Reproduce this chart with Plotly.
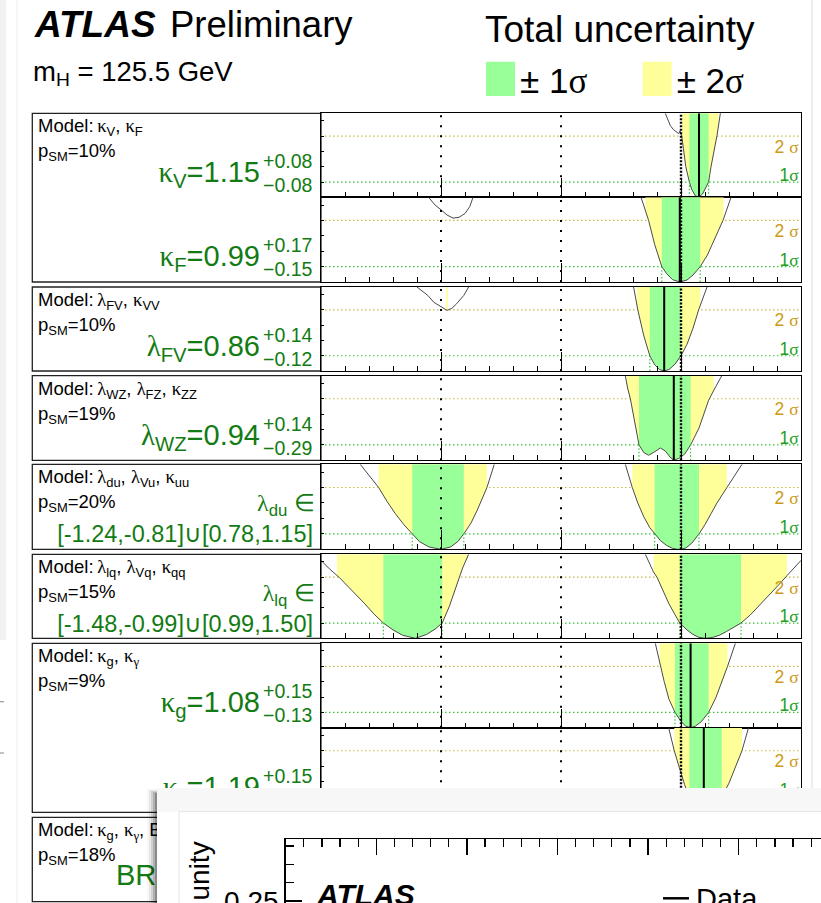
import numpy as np
import plotly.graph_objects as go

W, H = 821, 903
SANS = "Liberation Sans"
SERIF = "Liberation Serif"

# colours
C_BAND_1S = "#99ff99"
C_BAND_2S = "#ffff99"
C_VALUE = "#137b13"
C_TXT_1S = "#22a022"
C_TXT_2S = "#cc9a14"
C_LINE_1S = "#3ac43a"
C_LINE_2S = "#c4bd45"
C_CURVE = "#4a4a4a"

MH = 125.5
X_RANGE = [-2.0, 2.0]
YMAX = 5.5
SM_VALUE = 1.0
GUIDES = [-1.0, 0.0]
LEVEL_1S, LEVEL_2S = 1.0, 4.0

# ---------------- likelihood scans (-2 ln Lambda) ----------------
KV_X = [0.869, 0.89, 0.911, 0.935, 0.955, 0.98, 0.992, 1.005, 1.02, 1.04, 1.07, 1.09, 1.12,
        1.147, 1.18, 1.20, 1.23, 1.25, 1.28, 1.30, 1.328, 1.345]
KV_Y = [5.5, 5.05, 4.7, 4.45, 4.3, 4.17, 4.35, 4.05, 3.2, 2.0, 1.0, 0.5, 0.1,
        0.0, 0.22, 0.55, 1.0, 2.0, 3.2, 4.05, 5.5, 6.5]

KF_X = [0.667, 0.70, 0.73, 0.78, 0.84, 0.88, 0.93, 0.99, 1.05, 1.10, 1.16, 1.22, 1.28, 1.35, 1.417]
KF_Y = [5.5, 4.7, 4.0, 2.45, 1.0, 0.55, 0.15, 0.0, 0.13, 0.45, 1.0, 1.75, 2.75, 4.0, 5.5]
KF_SIDE_X = [-1.103, -1.05, -1.0, -0.95, -0.90, -0.85, -0.80, -0.76, -0.733]
KF_SIDE_Y = [5.5, 5.0, 4.69, 4.35, 4.15, 4.2, 4.45, 4.9, 5.5]

LFV_X = [0.605, 0.64, 0.69, 0.74, 0.78, 0.82, 0.86, 0.90, 0.95, 1.00, 1.05, 1.10, 1.147, 1.217]
LFV_Y = [5.5, 4.0, 2.3, 1.0, 0.42, 0.1, 0.0, 0.1, 0.45, 1.0, 1.75, 2.8, 4.0, 5.5]
LFV_SIDE_X = [-1.2, -1.11, -1.06, -1.0, -0.95, -0.91, -0.87, -0.81, -0.77]
LFV_SIDE_Y = [5.5, 4.95, 4.5, 4.2, 3.97, 4.1, 4.4, 4.95, 5.5]

LWZ_X = [0.536, 0.555, 0.578, 0.60, 0.62, 0.65, 0.69, 0.73, 0.78, 0.828, 0.87, 0.91, 0.94,
         0.98, 1.03, 1.08, 1.15, 1.20, 1.23, 1.29, 1.34]
LWZ_Y = [5.5, 4.7, 4.0, 3.1, 2.3, 1.0, 0.5, 0.33, 0.55, 0.8, 0.6, 0.2, 0.0,
         0.12, 0.4, 1.0, 2.1, 3.2, 3.9, 4.8, 5.5]

LDU_NEG_X = [-1.673, -1.60, -1.52, -1.45, -1.38, -1.31, -1.24, -1.18, -1.10, -1.0, -0.92,
             -0.86, -0.81, -0.75, -0.70, -0.655, -0.617, -0.556]
LDU_NEG_Y = [5.5, 4.8, 4.0, 3.1, 2.3, 1.6, 1.0, 0.5, 0.15, 0.0, 0.15, 0.5, 1.0, 1.7, 2.5,
             3.3, 4.0, 5.5]
LDU_POS_X = [0.536, 0.594, 0.64, 0.69, 0.74, 0.78, 0.83, 0.88, 0.93, 0.97, 1.0, 1.04, 1.09,
             1.15, 1.20, 1.25, 1.30, 1.383, 1.45, 1.508]
LDU_POS_Y = [5.5, 4.0, 3.0, 2.1, 1.4, 1.0, 0.55, 0.25, 0.06, 0.0, 0.0, 0.08, 0.4, 1.0, 1.6,
             2.3, 3.0, 4.0, 4.8, 5.5]

LLQ_NEG_X = [-2.0, -1.93, -1.85, -1.78, -1.714, -1.64, -1.56, -1.48, -1.40, -1.32, -1.214,
             -1.12, -1.05, -0.99, -0.93, -0.87, -0.82, -0.77]
LLQ_NEG_Y = [5.1, 4.55, 4.0, 3.45, 2.94, 2.3, 1.6, 1.0, 0.55, 0.2, 0.0, 0.25, 0.6, 1.0, 2.1,
             3.5, 4.6, 5.5]
LLQ_POS_X = [0.703, 0.74, 0.77, 0.80, 0.85, 0.90, 0.95, 0.99, 1.05, 1.10, 1.15, 1.203, 1.26,
             1.32, 1.38, 1.44, 1.50, 1.58, 1.66, 1.74, 1.82, 1.883, 1.94, 2.0]
LLQ_POS_Y = [5.5, 4.9, 4.35, 4.0, 3.1, 2.25, 1.55, 1.0, 0.55, 0.25, 0.06, 0.0, 0.05, 0.2,
             0.45, 0.75, 1.0, 1.55, 2.2, 2.85, 3.55, 4.1, 4.6, 5.1]

KG_X = [0.786, 0.822, 0.86, 0.90, 0.95, 1.0, 1.04, 1.08, 1.12, 1.17, 1.23, 1.29, 1.34, 1.388, 1.453]
KG_Y = [5.5, 4.2, 3.0, 1.85, 1.0, 0.4, 0.1, 0.0, 0.1, 0.4, 1.0, 1.95, 2.95, 4.0, 5.5]

KGAM_X = [0.897, 0.944, 0.99, 1.03, 1.07, 1.12, 1.19, 1.25, 1.30, 1.34, 1.40, 1.46, 1.508, 1.563]
KGAM_Y = [5.5, 4.0, 2.8, 1.8, 1.0, 0.3, 0.0, 0.25, 0.6, 1.0, 1.9, 3.0, 4.0, 5.5]

# ---------------- fit results: best value, +err, -err ----------------
KV_FIT = (1.15, 0.08, 0.08)
KF_FIT = (0.99, 0.17, 0.15)
LFV_FIT = (0.86, 0.14, 0.12)
LWZ_FIT = (0.94, 0.14, 0.29)
KG_FIT = (1.08, 0.15, 0.13)
KGAM_FIT = (1.19, 0.15, 0.12)
LDU_1SIG = [(-1.24, -0.81), (0.78, 1.15)]
LLQ_1SIG = [(-1.48, -0.99), (0.99, 1.50)]

# 95% intervals
KV_2SIG = [(1.008, 1.313)]
KF_2SIG = [(0.703, 1.355)]
LFV_2SIG = [(-0.957, -0.943), (0.633, 1.161)]
LWZ_2SIG = [(0.55, 1.272)]
LDU_2SIG = [(-1.52, -0.617), (0.594, 1.383)]
LLQ_2SIG = [(-1.867, -0.77), (0.772, 1.883)]
KG_2SIG = [(0.822, 1.388)]
KGAM_2SIG = [(0.944, 1.508)]

P_SM = [10, 10, 19, 20, 15, 9, 18]

# ---------------- page geometry (pixels) ----------------
PLOT_X0, PLOT_X1 = 321.0, 801.0
BOX_X0 = 32.3
PANEL_TOP = [113.3, 197.3, 287.0, 375.7, 464.3, 554.3, 643.3, 727.7]
PANEL_BOT = [197.3, 282.0, 371.0, 460.3, 549.3, 638.3, 727.7, 812.3]
ROW_TOP = [113.3, 287.0, 375.7, 464.3, 554.3, 643.3, 817.3]
ROW_BOT = [282.0, 371.0, 460.3, 549.3, 638.3, 812.3, 901.7]


def G(s):
    return f'<span style="font-family:{SERIF}">{s}</span>'


def one_sigma(fit):
    b, up, dn = fit
    return [(round(b - dn, 3), round(b + up, 3))]


PANELS = [
    dict(sym=f"{G('κ')}<sub>V</sub>", curves=[(KV_X, KV_Y)], fit=KV_FIT, one=one_sigma(KV_FIT), two=KV_2SIG),
    dict(sym=f"{G('κ')}<sub>F</sub>", curves=[(KF_X, KF_Y), (KF_SIDE_X, KF_SIDE_Y)], fit=KF_FIT,
         one=one_sigma(KF_FIT), two=KF_2SIG),
    dict(sym=f"{G('λ')}<sub>FV</sub>", curves=[(LFV_X, LFV_Y), (LFV_SIDE_X, LFV_SIDE_Y)], fit=LFV_FIT,
         one=one_sigma(LFV_FIT), two=LFV_2SIG),
    dict(sym=f"{G('λ')}<sub>WZ</sub>", curves=[(LWZ_X, LWZ_Y)], fit=LWZ_FIT, one=one_sigma(LWZ_FIT), two=LWZ_2SIG),
    dict(sym=f"{G('λ')}<sub>du</sub>", curves=[(LDU_NEG_X, LDU_NEG_Y), (LDU_POS_X, LDU_POS_Y)], fit=None,
         one=LDU_1SIG, two=LDU_2SIG),
    dict(sym=f"{G('λ')}<sub>lq</sub>", curves=[(LLQ_NEG_X, LLQ_NEG_Y), (LLQ_POS_X, LLQ_POS_Y)], fit=None,
         one=LLQ_1SIG, two=LLQ_2SIG),
    dict(sym=f"{G('κ')}<sub>g</sub>", curves=[(KG_X, KG_Y)], fit=KG_FIT, one=one_sigma(KG_FIT), two=KG_2SIG),
    dict(sym=f"{G('κ')}<sub>{G('γ')}</sub>", curves=[(KGAM_X, KGAM_Y)], fit=KGAM_FIT,
         one=one_sigma(KGAM_FIT), two=KGAM_2SIG),
]

MODEL_TEXT = [
    f"{G('κ')}<sub>V</sub>, {G('κ')}<sub>F</sub>",
    f"{G('λ')}<sub>FV</sub>, {G('κ')}<sub>VV</sub>",
    f"{G('λ')}<sub>WZ</sub>, {G('λ')}<sub>FZ</sub>, {G('κ')}<sub>ZZ</sub>",
    f"{G('λ')}<sub>du</sub>, {G('λ')}<sub>Vu</sub>, {G('κ')}<sub>uu</sub>",
    f"{G('λ')}<sub>lq</sub>, {G('λ')}<sub>Vq</sub>, {G('κ')}<sub>qq</sub>",
    f"{G('κ')}<sub>g</sub>, {G('κ')}<sub>{G('γ')}</sub>",
    f"{G('κ')}<sub>g</sub>, {G('κ')}<sub>{G('γ')}</sub>, BR<sub>i.,u.</sub>",
]

fig = go.Figure()
layout_axes = {}
shapes = []


def ax_names(i):
    s = "" if i == 1 else str(i)
    return "x" + s, "y" + s, "xaxis" + s, "yaxis" + s


def line_tr(xs, ys, xr, yr, color, width, dash=None):
    return go.Scatter(x=xs, y=ys, xaxis=xr, yaxis=yr, mode="lines",
                      line=dict(color=color, width=width, dash=dash),
                      hoverinfo="skip", showlegend=False)


def curve_for(curves, lo, hi):
    mid = 0.5 * (lo + hi)
    for cx, cy in curves:
        if min(cx) <= mid <= max(cx):
            return cx, cy
    return curves[0]


def band_tr(curves, lo, hi, color, xr, yr):
    cx, cy = curve_for(curves, lo, hi)
    xs = [lo] + [x for x in cx if lo < x < hi] + [hi]
    ys = list(np.interp(xs, cx, cy))
    return go.Scatter(x=xs + [hi, lo], y=ys + [YMAX, YMAX], xaxis=xr, yaxis=yr,
                      mode="lines", fill="toself", fillcolor=color, line=dict(width=0),
                      hoverinfo="skip", showlegend=False)


def text_tr(s, x, base, size, color="black", right=False, family=SANS, xr="x9", yr="y9",
            px_per_unit=-1.0):
    # base is the text baseline; px_per_unit < 0 for pixel axes (y grows downward)
    return go.Scatter(x=[x], y=[base + 0.25 * size / px_per_unit], xaxis=xr, yaxis=yr,
                      mode="text", text=[s],
                      textposition="middle left" if right else "middle right",
                      textfont=dict(family=family, size=size, color=color),
                      hoverinfo="skip", showlegend=False, cliponaxis=False)


# ---------------- likelihood panels ----------------
for i, p in enumerate(PANELS, start=1):
    xr, yr, xa, ya = ax_names(i)
    top, bot = PANEL_TOP[i - 1], PANEL_BOT[i - 1]
    unit = (bot - top) / YMAX
    layout_axes[xa] = dict(domain=[PLOT_X0 / W, PLOT_X1 / W], range=X_RANGE, anchor=yr,
                           showline=True, mirror=True, linecolor="black", linewidth=1,
                           ticks="inside", ticklen=19, tickwidth=1, tickcolor="black",
                           dtick=1, tick0=0,
                           minor=dict(ticks="inside", ticklen=5, dtick=0.2, tick0=0,
                                      tickcolor="black", tickwidth=1),
                           showticklabels=False, showgrid=False, zeroline=False,
                           automargin=False, fixedrange=True)
    layout_axes[ya] = dict(domain=[1 - bot / H, 1 - top / H], range=[0, YMAX], anchor=xr,
                           showline=True, mirror=True, linecolor="black", linewidth=1,
                           ticks="inside", ticklen=3, dtick=1, tick0=0, tickcolor="black",
                           showticklabels=False, showgrid=False, zeroline=False,
                           automargin=False, fixedrange=True)

    # sigma reference levels
    fig.add_trace(line_tr(X_RANGE, [LEVEL_2S] * 2, xr, yr, C_LINE_2S, 1.2, "1.5px,2.5px"))
    fig.add_trace(line_tr(X_RANGE, [LEVEL_1S] * 2, xr, yr, C_LINE_1S, 1.2, "1.5px,2.5px"))
    # uncertainty bands above the scan
    for lo, hi in p["two"]:
        fig.add_trace(band_tr(p["curves"], lo, hi, C_BAND_2S, xr, yr))
    for lo, hi in p["one"]:
        fig.add_trace(band_tr(p["curves"], lo, hi, C_BAND_1S, xr, yr))
    # scan curves
    for cx, cy in p["curves"]:
        fig.add_trace(line_tr(cx, cy, xr, yr, C_CURVE, 1))
    # 68% interval edges
    for lo, hi in p["one"]:
        for e in (lo, hi):
            fig.add_trace(line_tr([e, e], [0, LEVEL_1S], xr, yr, C_LINE_1S, 1.2, "1.5px,2px"))
    # reference values
    for g in GUIDES:
        fig.add_trace(line_tr([g, g], [0, YMAX], xr, yr, "black", 2, "2px,8px"))
    fig.add_trace(line_tr([SM_VALUE, SM_VALUE], [0, YMAX], xr, yr, "black", 2.4, "2px,1.5px"))
    if p["fit"] is not None:
        b = p["fit"][0]
        fig.add_trace(line_tr([b, b], [0, YMAX], xr, yr, "black", 2))
    # level labels (baseline given in data units)
    fig.add_trace(text_tr(f"2 {G('σ')}", 1.98, LEVEL_2S - 16.4 / unit, 17.5, C_TXT_2S, True,
                          xr=xr, yr=yr, px_per_unit=unit))
    fig.add_trace(text_tr(f"1{G('σ')}", 1.98, LEVEL_1S + 1.0 / unit, 17.5, C_TXT_1S, True,
                          xr=xr, yr=yr, px_per_unit=unit))

# ---------------- page canvas for text (subplot 9) ----------------
layout_axes["xaxis9"] = dict(domain=[0, 1], range=[0, W], anchor="y9", visible=False,
                             fixedrange=True, automargin=False)
layout_axes["yaxis9"] = dict(domain=[0, 1], range=[H, 0], anchor="x9", visible=False,
                             fixedrange=True, automargin=False)

texts = []
texts.append(text_tr("<b><i>ATLAS</i></b>", 35, 37.3, 37))
texts.append(text_tr("Preliminary", 170, 37.3, 36.5))
texts.append(text_tr(f"m<sub>H</sub> = {MH} GeV", 33, 80.7, 27.5))
texts.append(text_tr("Total uncertainty", 485, 41.7, 37))
texts.append(text_tr(f"± 1{G('σ')}", 520, 93.3, 35))
texts.append(text_tr(f"± 2{G('σ')}", 676.7, 93.3, 35))

for r in range(7):
    t = ROW_TOP[r]
    texts.append(text_tr(f"Model:\u2009{MODEL_TEXT[r]}", 38, t + 19, 18.5))
    texts.append(text_tr(f"p<sub>SM</sub>={P_SM[r]}%", 38, t + 44, 18.5))

for i, p in enumerate(PANELS):
    top = PANEL_TOP[i]
    if p["fit"] is not None:
        b, up, dn = p["fit"]
        base = top + 68.8
        texts.append(text_tr(f"{p['sym']}={b:.2f}", 260, base, 29, C_VALUE, True))
        texts.append(text_tr(f"+{up:.2f}", 263, base - 14, 19.5, C_VALUE))
        texts.append(text_tr(f"\u2212{dn:.2f}", 263, base + 10, 19.5, C_VALUE))
    else:
        texts.append(text_tr(f"{p['sym']} {G('∈')}", 315, top + 47, 24, C_VALUE, True))
        iv = G("∪").join(f"[{a:.2f},{c:.2f}]" for a, c in p["one"])
        texts.append(text_tr(iv, 313, top + 77.5, 23.5, C_VALUE, True))

texts.append(text_tr("BR<sub>i.,u.</sub>", 116, 885, 29, C_VALUE))
for tr in texts:
    fig.add_trace(tr)

# label boxes, legend swatches, page edges
for r in range(7):
    shapes.append(dict(type="rect", xref="paper", yref="paper", layer="below",
                       x0=BOX_X0 / W, x1=PLOT_X0 / W, y0=1 - ROW_BOT[r] / H, y1=1 - ROW_TOP[r] / H,
                       line=dict(color="#222222", width=1.3), fillcolor="white"))
shapes.append(dict(type="rect", xref="paper", yref="paper", layer="below",
                   x0=486 / W, x1=515 / W, y0=1 - 96 / H, y1=1 - 61.7 / H,
                   line=dict(width=0), fillcolor=C_BAND_1S))
shapes.append(dict(type="rect", xref="paper", yref="paper", layer="below",
                   x0=642.7 / W, x1=671.7 / W, y0=1 - 96 / H, y1=1 - 61.7 / H,
                   line=dict(width=0), fillcolor=C_BAND_2S))
shapes.append(dict(type="rect", xref="paper", yref="paper", layer="below",
                   x0=0, x1=6 / W, y0=1 - 640 / H, y1=1, line=dict(width=0), fillcolor="#f1f1f1"))
shapes.append(dict(type="line", xref="paper", yref="paper", layer="below",
                   x0=17 / W, x1=17 / W, y0=0, y1=1, line=dict(color="#eeeeee", width=1)))
for yy in (701.7, 753.0):
    shapes.append(dict(type="line", xref="paper", yref="paper", layer="below",
                       x0=0, x1=4 / W, y0=1 - yy / H, y1=1 - yy / H,
                       line=dict(color="#9a9a9a", width=1.2)))
shapes.append(dict(type="line", xref="paper", yref="paper", layer="below",
                   x0=812 / W, x1=812 / W, y0=1 - 788 / H, y1=1,
                   line=dict(color="#dcdcdc", width=1)))

# ---------------- foreground window (subplots 10, 11) ----------------
layout_axes["xaxis10"] = dict(domain=[140 / W, 1], range=[140, W], anchor="y10", visible=False,
                              fixedrange=True, automargin=False)
layout_axes["yaxis10"] = dict(domain=[0, 1 - 785 / H], range=[H, 785], anchor="x10", visible=False,
                              fixedrange=True, automargin=False)


def rect_tr(x0, x1, y0, y1, color):
    return go.Scatter(x=[x0, x1, x1, x0, x0], y=[y0, y0, y1, y1, y0], xaxis="x10", yaxis="y10",
                      mode="lines", fill="toself", fillcolor=color, line=dict(width=0),
                      hoverinfo="skip", showlegend=False)


for k, a in enumerate([0.03, 0.06, 0.1, 0.15, 0.22]):
    fig.add_trace(rect_tr(147 + 2 * k, 157, 789 + k, H, f"rgba(0,0,0,{a})"))
fig.add_trace(rect_tr(157, W, 788, H, "#ffffff"))
fig.add_trace(rect_tr(157, W, 788, 811.7, "#f7f7f7"))
fig.add_trace(go.Scatter(x=[179, 179, W], y=[H, 811.7, 811.7], xaxis="x10", yaxis="y10", mode="lines",
                         line=dict(color="#e4e4e4", width=1), hoverinfo="skip", showlegend=False))
fig.add_trace(go.Scatter(x=[663, 689], y=[898.3, 898.3], xaxis="x10", yaxis="y10", mode="lines",
                         line=dict(color="black", width=2.5), hoverinfo="skip", showlegend=False))
fig.add_trace(text_tr("<b><i>ATLAS</i></b>", 317, 905, 30, xr="x10", yr="y10"))
fig.add_trace(text_tr("Data", 696, 909, 29, xr="x10", yr="y10"))

MAJOR_PX = 90.6
layout_axes["xaxis11"] = dict(domain=[285.7 / W, 1], range=[0, (W - 285.7) / MAJOR_PX], anchor="y11",
                              side="top", showline=True, linecolor="black", linewidth=1.5,
                              ticks="inside", ticklen=16, tickwidth=1.2, tickcolor="black",
                              dtick=1, tick0=0,
                              minor=dict(ticks="inside", ticklen=8, dtick=0.2, tick0=0,
                                         tickcolor="black", tickwidth=1.2),
                              showticklabels=False, showgrid=False, zeroline=False,
                              fixedrange=True, automargin=False)
layout_axes["yaxis11"] = dict(domain=[0, 1 - 839.3 / H], range=[0.2489, 0.2837], anchor="x11",
                              showline=True, linecolor="black", linewidth=1.5,
                              ticks="inside", ticklen=16, tickwidth=1.2, tickcolor="black",
                              dtick=0.05, tick0=0, tickformat=".2f",
                              minor=dict(ticks="inside", ticklen=8, dtick=0.01, tick0=0,
                                         tickcolor="black", tickwidth=1.2),
                              showticklabels=True, ticklabeloverflow="allow",
                              tickfont=dict(family=SANS, size=28, color="black"),
                              showgrid=False, zeroline=False, fixedrange=True, automargin=False)
fig.add_trace(go.Scatter(x=[], y=[], xaxis="x11", yaxis="y11", mode="lines", showlegend=False))

annotations = [dict(text="Normalized to unity", x=199 / W, y=1 - 840 / H, xref="paper", yref="paper",
                    textangle=-90, xanchor="center", yanchor="top", showarrow=False, borderpad=0,
                    font=dict(family=SANS, size=28, color="black"))]

fig.update_layout(template="none", width=W, height=H, autosize=False,
                  margin=dict(l=0, r=0, t=0, b=0, pad=0),
                  paper_bgcolor="white", plot_bgcolor="rgba(0,0,0,0)",
                  showlegend=False, shapes=shapes, annotations=annotations, **layout_axes)

fig.write_html("out.html", config={"displayModeBar": False, "staticPlot": True})
